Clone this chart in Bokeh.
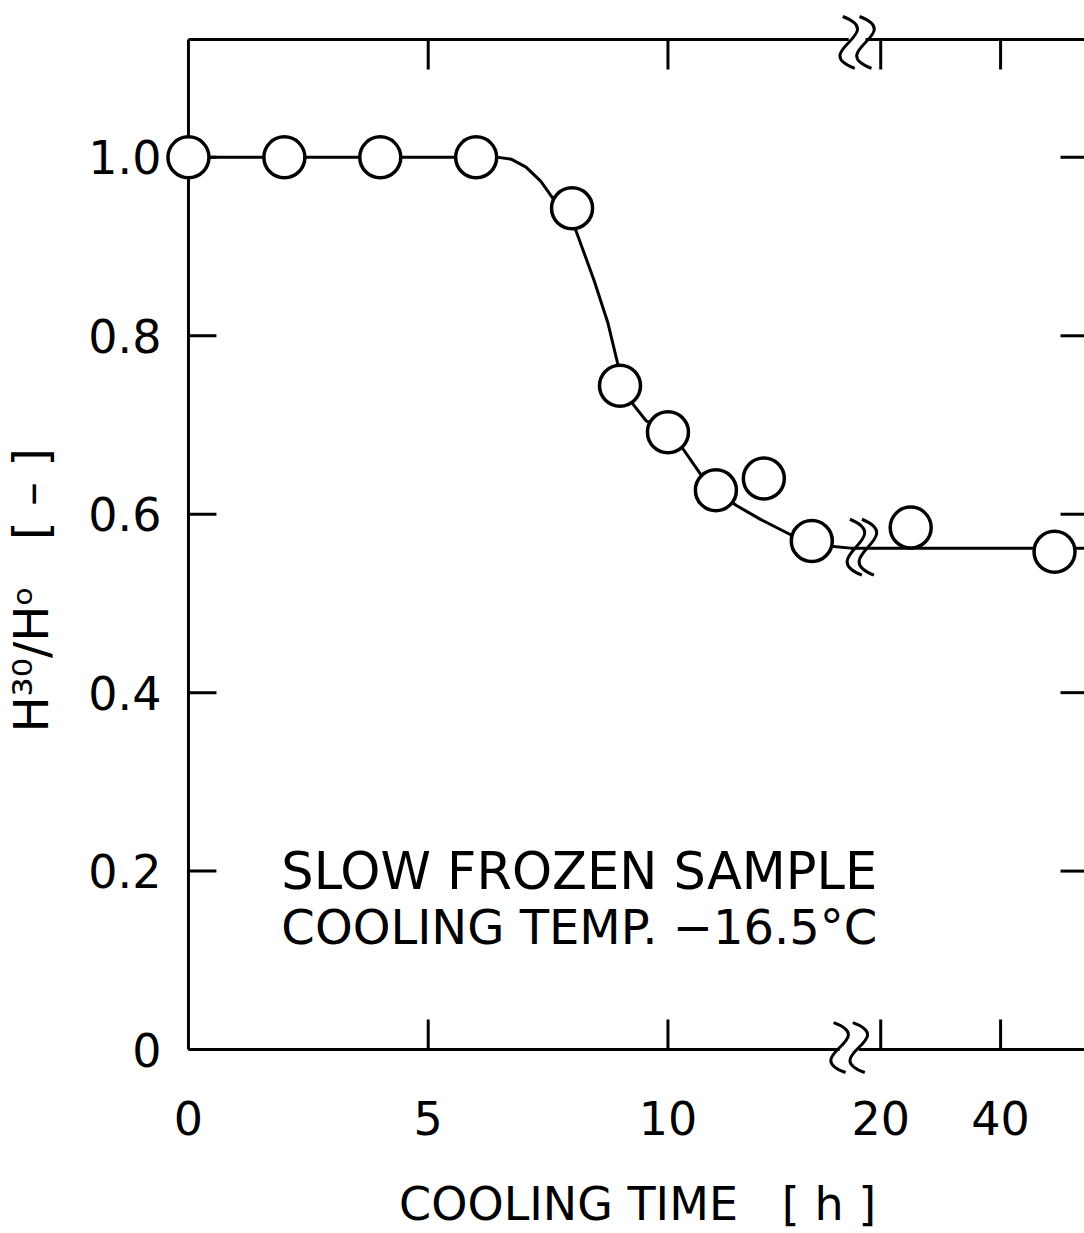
from bokeh.plotting import figure
from bokeh.models import Range1d, FixedTicker, LinearAxis, Label
from bokeh.embed import file_html
from bokeh.resources import INLINE

# ---------------- data ----------------
hours = [0, 2, 4, 6, 8, 9, 10, 11, 12, 13, 25, 49]
ratio = [1.0, 1.0, 1.0, 1.0, 0.943, 0.744, 0.692, 0.627, 0.640, 0.570, 0.585, 0.558]

curve_hours = [0, 6.0, 6.46, 6.73, 7.04, 7.35, 7.56, 7.81, 8.08, 8.46, 8.75, 8.96, 9.0,
               9.29, 9.54, 10.0, 10.33, 10.69, 11.0, 11.42, 11.94, 12.56, 12.98, 13.4,
               13.81, 20, 56]
curve_ratio = [1.0, 1.0, 1.0, 0.998, 0.989, 0.973, 0.957, 0.938, 0.918, 0.862, 0.814, 0.767, 0.744,
               0.722, 0.705, 0.692, 0.672, 0.644, 0.627, 0.610, 0.594, 0.577, 0.570, 0.564,
               0.562, 0.562, 0.562]

x_tick_hours = [0, 5, 10, 20, 40]
x_tick_labels = ["0", "5", "10", "20", "40"]
y_ticks = [0, 0.2, 0.4, 0.6, 0.8, 1.0]
y_tick_labels = ["0", "0.2", "0.4", "0.6", "0.8", "1.0"]

# ---------------- broken time axis ----------------
BREAK_START_H = 14.0      # first segment is linear 0..14 h
SEG2_H0 = 20.0            # second segment starts at 20 h
SEG2_D0 = 14.4375         # display position of 20 h
SEG2_H_PER_UNIT = 8.0     # compressed scale after the break


def to_disp(h):
    return h if h <= BREAK_START_H else SEG2_D0 + (h - SEG2_H0) / SEG2_H_PER_UNIT


PX_X = 48.0   # pixels per display unit
PX_Y = 893.0  # pixels per unit ratio
Y_AX_TOP = 1011 / PX_Y
X0 = -27 / PX_X
X1 = 897 / PX_X
Y0 = -27 / PX_Y
Y1 = 1038 / PX_Y

FONT = "DejaVu Sans"
NB = "\u00a0"

p = figure(width=1084, height=1233, x_range=Range1d(X0, X1), y_range=Range1d(Y0, Y1),
           output_backend="svg", toolbar_location=None,
           x_axis_location=None, y_axis_location=None,
           min_border_left=160, min_border_right=0, min_border_top=12, min_border_bottom=156)
p.outline_line_color = None
p.background_fill_color = "white"
p.border_fill_color = "white"
p.xgrid.grid_line_color = None
p.ygrid.grid_line_color = None

xt = [to_disp(h) for h in x_tick_hours]

ax_b = LinearAxis(ticker=FixedTicker(ticks=xt, minor_ticks=[]),
                  major_label_overrides=dict(zip(xt, x_tick_labels)),
                  axis_line_color=None, major_tick_line_color=None,
                  minor_tick_line_color=None, major_tick_in=0, major_tick_out=0,
                  major_label_standoff=24,
                  major_label_text_font=FONT, major_label_text_font_size="46px",
                  major_label_text_color="black",
                  axis_label=NB * 2 + "COOLING" + NB + "TIME" + NB * 3 + "[" + NB + "h" + NB + "]",
                  axis_label_standoff=39, axis_label_text_font=FONT,
                  axis_label_text_font_size="46px", axis_label_text_font_style="normal",
                  axis_label_text_color="black")
p.add_layout(ax_b, "below")

ax_l = LinearAxis(ticker=FixedTicker(ticks=y_ticks, minor_ticks=[]),
                  major_label_overrides=dict(zip(y_ticks, y_tick_labels)),
                  axis_line_color=None, major_tick_line_color=None,
                  minor_tick_line_color=None, major_tick_in=0, major_tick_out=0,
                  major_label_standoff=0,
                  major_label_text_font=FONT, major_label_text_font_size="46px",
                  major_label_text_color="black",
                  axis_label="H\u00b3\u2070/H\u1d52" + NB * 3 + "[" + NB + "\u2013" + NB + "]" + NB * 6,
                  axis_label_standoff=26, axis_label_text_font=FONT,
                  axis_label_text_font_size="48px", axis_label_text_font_style="normal",
                  axis_label_text_color="black")
p.add_layout(ax_l, "left")

# ---------------- axis lines, ticks and break marks ----------------
LW = 3
brk_bottom = [13.58, 13.98]
brk_top = [13.77, 14.12]
brk_curve = [13.92, 14.17]
TICK_X = 28 / PX_X
TICK_Y = 30 / PX_Y

# left axis line + inward ticks
p.segment(x0=[0], y0=[y_ticks[0]], x1=[0], y1=[Y_AX_TOP], line_color="black", line_width=LW)
p.segment(x0=[0] * len(y_ticks), y0=y_ticks, x1=[TICK_X] * len(y_ticks), y1=y_ticks,
          line_color="black", line_width=LW)
# right-side inward ticks
p.segment(x0=[X1 - 24 / PX_X] * 5, y0=y_ticks[1:], x1=[X1] * 5, y1=y_ticks[1:],
          line_color="black", line_width=LW)
# bottom / top inward ticks
p.segment(x0=xt[1:], y0=[0] * 4, x1=xt[1:], y1=[TICK_Y] * 4, line_color="black", line_width=LW)
p.segment(x0=xt[1:], y0=[Y_AX_TOP] * 4, x1=xt[1:], y1=[Y_AX_TOP - TICK_Y] * 4,
          line_color="black", line_width=LW)
# bottom and top axis lines with a gap at the break
p.segment(x0=[0, brk_bottom[1]], y0=[0, 0], x1=[brk_bottom[0], X1], y1=[0, 0],
          line_color="black", line_width=LW)
p.segment(x0=[0, brk_top[1]], y0=[Y_AX_TOP, Y_AX_TOP], x1=[brk_top[0], X1], y1=[Y_AX_TOP, Y_AX_TOP],
          line_color="black", line_width=LW)

# fitted curve
p.line([to_disp(h) for h in curve_hours], curve_ratio, line_color="black", line_width=LW,
       line_join="round")


def squiggles(xcs, yc, hpx):
    h = hpx / PX_Y
    e = 6 / PX_X
    k = 40 / PX_X
    return dict(x0=[x - e for x in xcs], y0=[yc + h / 2] * len(xcs),
                x1=[x + e for x in xcs], y1=[yc - h / 2] * len(xcs),
                cx0=[x + k for x in xcs], cy0=[yc + h / 6] * len(xcs),
                cx1=[x - k for x in xcs], cy1=[yc - h / 6] * len(xcs))


for xcs, yc, hpx in [(brk_bottom, 2 / PX_Y, 50), (brk_top, Y_AX_TOP - 3 / PX_Y, 52),
                     (brk_curve, 0.563, 56)]:
    p.bezier(**squiggles(xcs, yc, hpx), line_color="black", line_width=LW)

# data points
p.scatter([to_disp(h) for h in hours], ratio, marker="circle", size=41,
          fill_color="white", line_color="black", line_width=3.5)

# ---------------- texts ----------------
p.add_layout(Label(x=1.9375, y=0.1993, text="SLOW FROZEN SAMPLE",
                   text_font=FONT, text_font_size="51px", text_color="black",
                   text_align="left", text_baseline="alphabetic"))
p.add_layout(Label(x=1.9375, y=0.1377, text="COOLING TEMP. \u221216.5\u00b0C",
                   text_font=FONT, text_font_size="48px", text_color="black",
                   text_align="left", text_baseline="alphabetic"))

open("out.html", "w").write(file_html(p, INLINE))
